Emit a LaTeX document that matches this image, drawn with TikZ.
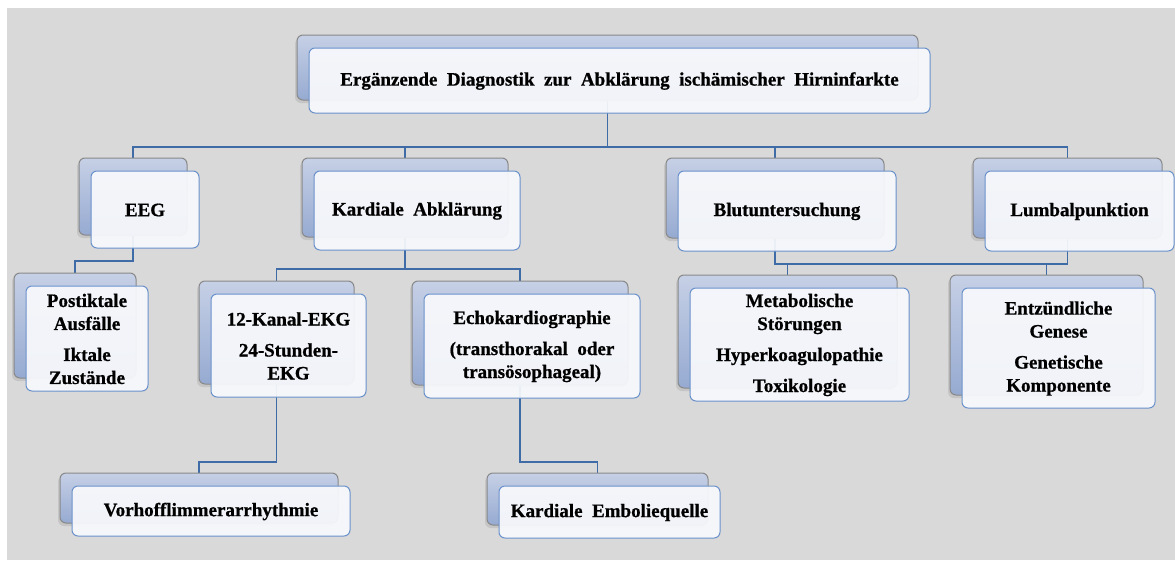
\documentclass[tikz,border=0pt]{standalone}
\usepackage{fontspec}
\setmainfont{Liberation Serif}[BoldFeatures={FakeBold=0.8}]
\usetikzlibrary{fit,shadows}
\definecolor{bggray}{HTML}{D9D9D9}
\definecolor{backtop}{HTML}{C6D0E6}
\definecolor{backbot}{HTML}{96AAD1}
\definecolor{backedge}{HTML}{888888}
\definecolor{frontedge}{HTML}{6A91CA}
\definecolor{frontfill}{HTML}{F8F9FC}
\definecolor{linkblue}{HTML}{3F6CA6}
\pgfdeclarelayer{bg}
\pgfdeclarelayer{links}
\pgfsetlayers{bg,links,main}
\tikzset{
  backbox/.style={rounded corners=6pt, draw=backedge, line width=1pt,
    top color=backtop, bottom color=backbot, inner sep=0pt,
    drop shadow={shadow xshift=-2pt, shadow yshift=-3pt, opacity=0.22}},
  frontbox/.style={rounded corners=6pt, draw=frontedge, line width=1pt,
    fill=frontfill, fill opacity=0.93, inner sep=0pt},
  boxtext/.style={inner sep=0pt, font=\bfseries\fontsize{19}{23}\selectfont, align=center},
  link/.style={draw=linkblue, line width=1.9pt}
}
\newcommand{\twobox}[6]{%
  \node[backbox, fit={(#2,#3) (#4,#5)}] (#1b) {};
  \node[frontbox, fit={(#2+12,#3+13) (#4+12,#5+13)}] (#1) {};
  \node[boxtext] (#1t) at ([yshift=-0.5pt]#1.center) {#6};
}
\begin{document}
\begin{tikzpicture}[x=1pt,y=-1pt]
\useasboundingbox (0,0) rectangle (1175,560);
\begin{pgfonlayer}{bg}
  \fill[white] (0,0) rectangle (1175,560);
  \fill[bggray] (7,8) rectangle (1175,560);
\end{pgfonlayer}
\twobox{top}{297}{35}{918}{100}{Ergänzende\ \ Diagnostik\ \ zur\ \ Abklärung\ \ ischämischer\ \ Hirninfarkte}
\twobox{eeg}{79}{158}{187}{235}{EEG}
\twobox{kard}{302}{158}{508}{237}{Kardiale\ \ Abklärung}
\twobox{blut}{666}{158}{884}{238}{Blutuntersuchung}
\twobox{lumb}{973}{158}{1162}{238}{Lumbalpunktion}
\twobox{post}{14}{273}{136}{378}{Postiktale\\Ausfälle\\[8pt]Iktale\\Zustände}
\twobox{ekg}{199}{281}{354}{384}{12-Kanal-EKG\\[8pt]24-Stunden-\\EKG}
\twobox{echo}{412}{281}{628}{385}{Echokardiographie\\[8pt](transthorakal\ \ oder\\transösophageal)}
\twobox{meta}{678}{275}{897}{388}{Metabolische\\Störungen\\[8pt]Hyperkoagulopathie\\[8pt]Toxikologie}
\twobox{entz}{950}{275}{1143}{395}{Entzündliche\\Genese\\[8pt]Genetische\\Komponente}
\twobox{vorh}{60}{473}{338}{523}{Vorhofflimmerarrhythmie}
\twobox{embo}{487}{473}{708}{525}{Kardiale\ \ Emboliequelle}
\coordinate (busA) at (0,147);
\coordinate (busB) at (0,261);
\coordinate (busC) at (0,269);
\coordinate (busD) at (0,264);
\coordinate (busE) at (0,462);
\begin{pgfonlayer}{links}
  \foreach \c in {eegb,kardb,blutb,lumbb}
    \draw[link] (topb.south) -- (topb.south |- busA) -| (\c.north);
  \draw[link] (eegb.south) -- (eegb.south |- busB) -| (postb.north);
  \draw[link] (kardb.south) -- (kardb.south |- busC) -| (ekgb.north);
  \draw[link] (kardb.south) -- (kardb.south |- busC) -| (echob.north);
  \draw[link] (blutb.south) -- (blutb.south |- busD) -| (entzb.north);
  \draw[link] (lumbb.south) -- (lumbb.south |- busD) -| (metab.north);
  \draw[link] (ekgb.south) -- (ekgb.south |- busE) -| (vorhb.north);
  \draw[link] (echob.south) -- (echob.south |- busE) -| (embob.north);
\end{pgfonlayer}
\end{tikzpicture}
\end{document}
